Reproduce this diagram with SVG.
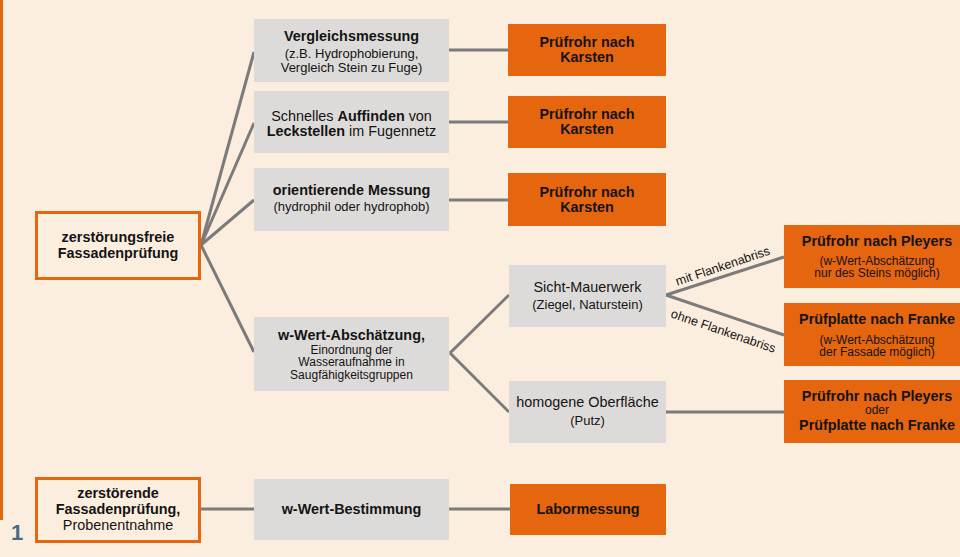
<svg xmlns="http://www.w3.org/2000/svg" width="960" height="557" viewBox="0 0 960 557">
<style>
  .bg{fill:#FCEEDF}
  .grey{fill:#DDDBD9}
  .org{fill:#E6650F}
  .obox{fill:none;stroke:#E6650F;stroke-width:3}
  .ln{stroke:#7B7B7B;stroke-width:3;fill:none;stroke-linecap:butt}
  text{font-family:"Liberation Sans",Arial,sans-serif;fill:#141414;text-anchor:middle}
  .t{font-size:14.4px;font-weight:bold}
  .r{font-size:14.4px}
  .s{font-size:13px}
  .ss{font-size:12px}
  .b{font-weight:bold}
  .lbl{font-size:12.6px}
  .num{font-size:22px;font-weight:bold;fill:#4A6B84;text-anchor:start}
</style>
<rect class="bg" x="0" y="0" width="960" height="557"/>
<rect class="org" x="0" y="0" width="3" height="520"/>

<g id="connectors">
  <path class="ln" d="M201,245 L254,52"/>
  <path class="ln" d="M201,245 L254,123"/>
  <path class="ln" d="M201,245 L254,200"/>
  <path class="ln" d="M201,245 L254,352"/>
  <path class="ln" d="M449,50 L508,50"/>
  <path class="ln" d="M449,122 L508,122"/>
  <path class="ln" d="M449,200 L508,200"/>
  <path class="ln" d="M450,353 L509,295"/>
  <path class="ln" d="M450,353 L509,412"/>
  <path class="ln" d="M666,295 L784,257"/>
  <path class="ln" d="M666,295 L784,335"/>
  <path class="ln" d="M666,412 L784,412"/>
  <path class="ln" d="M201,509 L254,509"/>
  <path class="ln" d="M449,509 L510,509"/>
  <text class="lbl" transform="translate(724,270) rotate(-18.5)">mit Flankenabriss</text>
  <text class="lbl" transform="translate(722,335) rotate(19)">ohne Flankenabriss</text>
</g>

<g id="zerstoerungsfrei">
  <rect class="obox" x="36.5" y="212.5" width="163" height="66"/>
  <text class="t" x="118" y="242">zerstörungsfreie</text>
  <text class="t" x="118" y="258">Fassadenprüfung</text>
</g>

<g id="vergleichsmessung">
  <rect class="grey" x="254" y="19" width="195" height="63"/>
  <text class="t" x="351.5" y="41">Vergleichsmessung</text>
  <text class="s" x="351.5" y="58">(z.B. Hydrophobierung,</text>
  <text class="s" x="351.5" y="72">Vergleich Stein zu Fuge)</text>
</g>

<g id="leckstellen">
  <rect class="grey" x="254" y="91" width="195" height="62"/>
  <text class="r" x="351.5" y="121">Schnelles <tspan class="b">Auffinden</tspan> von</text>
  <text class="r" x="351.5" y="136"><tspan class="b">Leckstellen</tspan> im Fugennetz</text>
</g>

<g id="orientierend">
  <rect class="grey" x="254" y="168" width="195" height="63"/>
  <text class="t" x="351.5" y="195">orientierende Messung</text>
  <text class="s" x="351.5" y="211">(hydrophil oder hydrophob)</text>
</g>

<g id="wwert-abschaetzung">
  <rect class="grey" x="254" y="317" width="195" height="74"/>
  <text class="t" x="351.5" y="340">w-Wert-Abschätzung,</text>
  <text class="ss" x="351.5" y="353.5">Einordnung der</text>
  <text class="ss" x="351.5" y="366">Wasseraufnahme in</text>
  <text class="ss" x="351.5" y="378.5">Saugfähigkeitsgruppen</text>
</g>

<g id="karsten1">
  <rect class="org" x="508" y="24" width="158" height="52"/>
  <text class="t" x="587" y="47">Prüfrohr nach</text>
  <text class="t" x="587" y="62">Karsten</text>
</g>
<g id="karsten2">
  <rect class="org" x="508" y="96" width="158" height="52"/>
  <text class="t" x="587" y="119">Prüfrohr nach</text>
  <text class="t" x="587" y="134">Karsten</text>
</g>
<g id="karsten3">
  <rect class="org" x="508" y="173" width="158" height="53"/>
  <text class="t" x="587" y="197">Prüfrohr nach</text>
  <text class="t" x="587" y="212">Karsten</text>
</g>

<g id="sicht-mauerwerk">
  <rect class="grey" x="509" y="265" width="157" height="62"/>
  <text class="r" x="587.5" y="292">Sicht-Mauerwerk</text>
  <text class="s" x="587.5" y="309">(Ziegel, Naturstein)</text>
</g>
<g id="homogen">
  <rect class="grey" x="509" y="381" width="157" height="62"/>
  <text class="r" x="587.5" y="407">homogene Oberfläche</text>
  <text class="s" x="587.5" y="425">(Putz)</text>
</g>

<g id="pleyers">
  <rect class="org" x="784" y="225" width="180" height="63"/>
  <text class="t" x="877" y="246">Prüfrohr nach Pleyers</text>
  <text class="ss" x="877" y="264.5">(w-Wert-Abschätzung</text>
  <text class="ss" x="877" y="277">nur des Steins möglich)</text>
</g>
<g id="franke">
  <rect class="org" x="784" y="303" width="180" height="63"/>
  <text class="t" x="877" y="324">Prüfplatte nach Franke</text>
  <text class="ss" x="877" y="343.5">(w-Wert-Abschätzung</text>
  <text class="ss" x="877" y="356">der Fassade möglich)</text>
</g>
<g id="pleyers-oder-franke">
  <rect class="org" x="784" y="380" width="180" height="63"/>
  <text class="t" x="877" y="401">Prüfrohr nach Pleyers</text>
  <text class="ss" x="877" y="414">oder</text>
  <text class="t" x="877" y="430">Prüfplatte nach Franke</text>
</g>

<g id="zerstoerend">
  <rect class="obox" x="36.5" y="478.5" width="163" height="63"/>
  <text class="t" x="118" y="498">zerstörende</text>
  <text class="t" x="118" y="514">Fassadenprüfung,</text>
  <text class="r" x="118" y="529.5">Probenentnahme</text>
</g>
<g id="wwert-bestimmung">
  <rect class="grey" x="254" y="479" width="195" height="61"/>
  <text class="t" x="351.5" y="514">w-Wert-Bestimmung</text>
</g>
<g id="labormessung">
  <rect class="org" x="510" y="484" width="156" height="51"/>
  <text class="t" x="588" y="514">Labormessung</text>
</g>

<text class="num" x="11" y="540">1</text>
</svg>
